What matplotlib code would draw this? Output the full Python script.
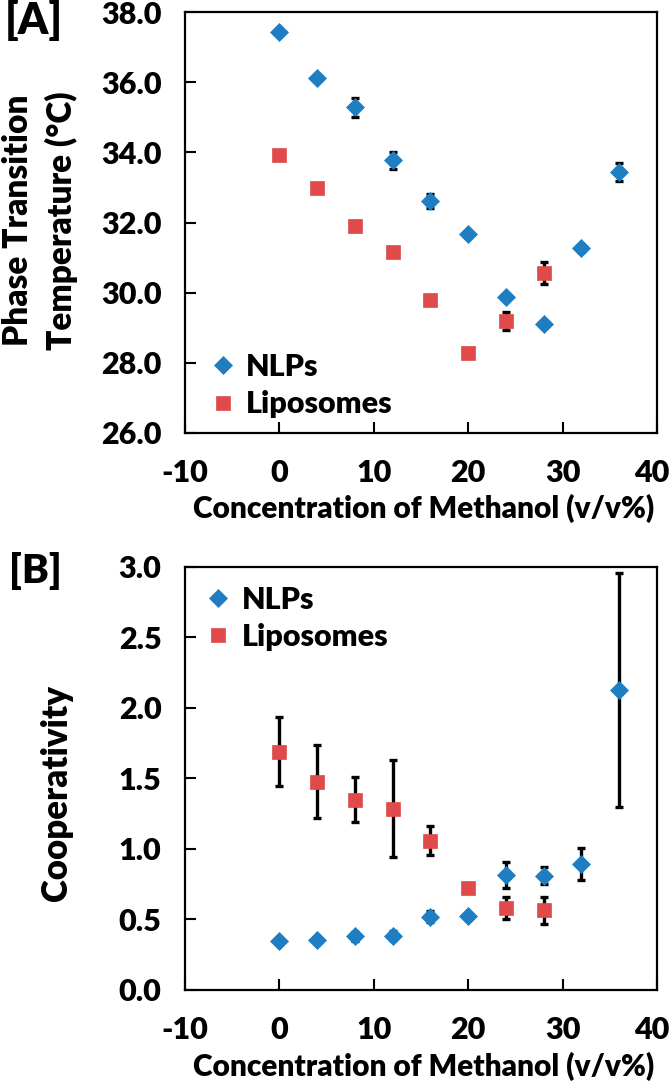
import matplotlib
matplotlib.use("Agg")
import matplotlib.pyplot as plt
import matplotlib.transforms as mtransforms
import numpy as np

plt.rcParams["font.family"] = ["Lato", "DejaVu Sans"]
plt.rcParams["font.weight"] = "heavy"
plt.rcParams["axes.unicode_minus"] = False

# methanol concentration (v/v%)
conc_nlp = [0, 4, 8, 12, 16, 20, 24, 28, 32, 36]
conc_lipo = [0, 4, 8, 12, 16, 20, 24, 28]

# [A] phase transition temperature (C)
tm_nlp = [37.44, 36.12, 35.28, 33.77, 32.62, 31.66, 29.88, 29.11, 31.27, 33.45]
tm_nlp_err = [0.08, 0.05, 0.26, 0.25, 0.2, 0.05, 0.06, 0.05, 0.1, 0.26]
tm_lipo = [33.92, 32.98, 31.90, 31.15, 29.80, 28.27, 29.20, 30.55]
tm_lipo_err = [0.05, 0.05, 0.05, 0.05, 0.05, 0.05, 0.26, 0.31]

# [B] cooperativity
coop_nlp = [0.344, 0.356, 0.380, 0.385, 0.52, 0.528, 0.815, 0.81, 0.896, 2.13]
coop_nlp_err = [0.02, 0.02, 0.03, 0.03, 0.04, 0.02, 0.095, 0.06, 0.113, 0.83]
coop_lipo = [1.688, 1.477, 1.35, 1.286, 1.06, 0.724, 0.58, 0.564]
coop_lipo_err = [0.245, 0.26, 0.162, 0.345, 0.10, 0.02, 0.077, 0.093]

BLUE = "#1f7dc2"
RED = "#e04a4a"
W = "heavy"

fig = plt.figure(figsize=(6.72, 10.83), dpi=100)
ax_a = fig.add_axes([0.2753, 0.6002, 0.7024, 0.3887])
ax_b = fig.add_axes([0.2753, 0.0859, 0.7024, 0.3906])


def draw(ax, y_nlp, e_nlp, y_lipo, e_lipo):
    for x, y, e in [(conc_nlp, y_nlp, e_nlp), (conc_lipo, y_lipo, e_lipo)]:
        ax.errorbar(x, y, yerr=e, fmt="none", ecolor="black", elinewidth=2.4,
                    capsize=2.6, capthick=2.4, zorder=2)
    ax.plot(conc_nlp, y_nlp, ls="none", marker="D", ms=9.4, color=BLUE,
            mec=BLUE, mew=0.5, label="NLPs", zorder=3)
    ax.plot(conc_lipo, y_lipo, ls="none", marker="s", ms=10.5, color=RED,
            mec=RED, mew=0.5, label="Liposomes", zorder=3)
    ax.set_xlim(-10, 40)
    ax.set_xticks(np.arange(-10, 41, 10))
    for s in ax.spines.values():
        s.set_linewidth(1.6)
    ax.tick_params(direction="in", length=8, width=1.5, labelsize=22, pad=17)
    ax.tick_params(axis="x", pad=19)
    for lab in ax.get_xticklabels() + ax.get_yticklabels():
        lab.set_fontweight(W)
    # the "40" label sits right at the figure edge; pull it in a little
    last = ax.get_xticklabels()[-1]
    last.set_transform(last.get_transform() + mtransforms.ScaledTranslation(
        -5 / 100, 0, fig.dpi_scale_trans))
    ax.set_xlabel("Concentration of Methanol (v/v%)", fontsize=21.5,
                  fontweight=W)


draw(ax_a, tm_nlp, tm_nlp_err, tm_lipo, tm_lipo_err)
ax_a.set_ylim(26, 38)
ax_a.set_yticks(np.arange(26, 38.1, 2))
ax_a.yaxis.set_major_formatter(matplotlib.ticker.FormatStrFormatter("%.1f"))
ax_a.set_ylabel("Phase Transition\nTemperature (\u00b0C)", fontsize=24,
                fontweight=W, linespacing=1.42)
ax_a.yaxis.set_label_coords(-0.226, 0.505)
ax_a.xaxis.set_label_coords(0.505, -0.145)
ax_a.legend(loc="lower left", bbox_to_anchor=(0.055, 0.035), frameon=False,
            prop={"size": 22, "weight": W}, handlelength=0.8,
            handletextpad=0.35, borderpad=0, labelspacing=0.3,
            borderaxespad=0)

draw(ax_b, coop_nlp, coop_nlp_err, coop_lipo, coop_lipo_err)
ax_b.set_ylim(0, 3)
ax_b.set_yticks(np.arange(0, 3.01, 0.5))
ax_b.yaxis.set_major_formatter(matplotlib.ticker.FormatStrFormatter("%.1f"))
ax_b.set_ylabel("Cooperativity", fontsize=25, fontweight=W)
ax_b.yaxis.set_label_coords(-0.237, 0.465)
ax_b.xaxis.set_label_coords(0.505, -0.147)
ax_b.legend(loc="upper left", bbox_to_anchor=(0.045, 0.955), frameon=False,
            prop={"size": 22, "weight": W}, handlelength=0.8,
            handletextpad=0.35, borderpad=0, labelspacing=0.3,
            borderaxespad=0)

fig.text(5 / 672, 1 - 0 / 1083, "[A]", fontsize=31, fontweight=W,
         ha="left", va="top")
fig.text(9 / 672, 1 - 552 / 1083, "[B]", fontsize=29, fontweight=W,
         ha="left", va="top")

fig.savefig("out.png", dpi=100)
